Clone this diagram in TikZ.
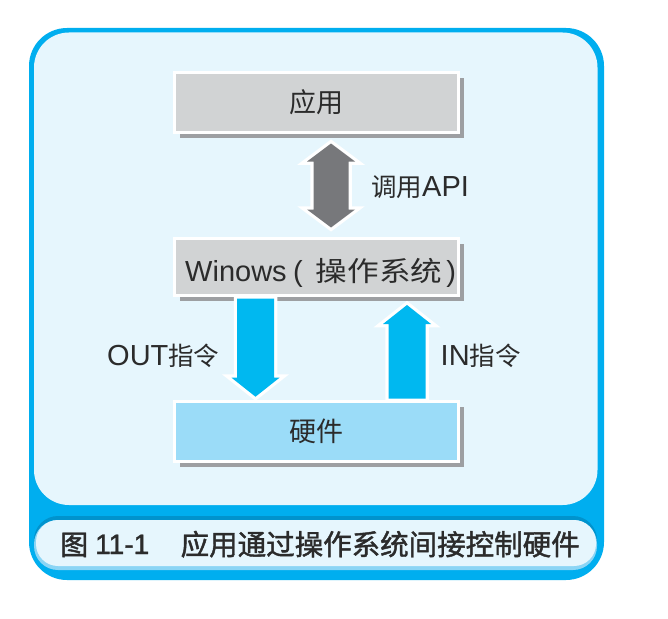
\documentclass[tikz,border=0pt]{standalone}
\usepackage{fontspec}
\setmainfont{Liberation Sans}
\newfontfamily\cjk{Noto Sans CJK SC}
\newfontfamily\cjkwide[FakeStretch=1.15]{Noto Sans CJK SC}
\newfontfamily\cjkcap[FakeBold=1.5]{Noto Sans CJK SC}
\newfontfamily\latcap[FakeBold=1.5]{Liberation Sans}
\usetikzlibrary{calc,shadows}
\definecolor{frameblue}{HTML}{00AEEF}
\definecolor{panel}{HTML}{E6F6FD}
\definecolor{boxgray}{HTML}{D1D3D4}
\definecolor{shadowgray}{HTML}{9D9FA2}
\definecolor{hwblue}{HTML}{9BDCF8}
\definecolor{arrowblue}{HTML}{00B8F0}
\definecolor{arrowgray}{HTML}{77787B}
\definecolor{rimdark}{HTML}{0093CD}
\definecolor{rimlight}{HTML}{8BD5F5}
\definecolor{textdark}{HTML}{2B2B2B}
\newcommand{\mylat}{\fontsize{29}{34}\selectfont}
\newcommand{\mycj}{\fontsize{25.5}{30}\selectfont\cjk}
\newcommand{\myboxcj}{\fontsize{27}{32}\selectfont\cjk}
\newcommand{\mywidecj}{\fontsize{27.5}{32}\selectfont\cjkwide}
\begin{document}
\begin{tikzpicture}[x=1pt,y=-1pt,
  box/.style={draw=white, line width=3pt, fill=boxgray, minimum width=284pt,
    minimum height=60pt, inner sep=0pt, text=textdark, font=\myboxcj,
    drop shadow={shadow xshift=5pt, shadow yshift=-5pt, fill=shadowgray, opacity=1}},
  hwbox/.style={box, fill=hwblue},
  label/.style={inner sep=0pt, text=textdark, anchor=base west},
  bluearrow/.style={fill=arrowblue, preaction={draw=white, line width=6.5pt, line join=miter}},
  grayarrow/.style={fill=arrowgray, preaction={draw=white, line width=6.5pt, line join=miter}}]
\useasboundingbox (0,0) rectangle (668,618);
% frame
\fill[frameblue, rounded corners=38pt] (29,28) rectangle (604,580);
\fill[panel, rounded corners=35pt] (34,32.5) rectangle (597.5,505);
% caption band
\fill[rimdark, rounded corners=24pt] (34,516) rectangle (597,567);
\fill[rimlight, rounded corners=24pt] (34,520) rectangle (597,570);
\fill[panel, rounded corners=22pt] (36,520) rectangle (596,566);
\node[label, font=\fontsize{28}{32}\selectfont\cjkcap] (capfig) at (60,555) {图};
\node[label, font=\fontsize{28}{32}\selectfont\latcap] (capnum) at (95,554) {11-1};
\node[label, font=\fontsize{28.5}{32}\selectfont\cjkcap] (captext) at (180.5,555) {应用通过操作系统间接控制硬件};
% boxes
\node[box] (app) at (316.5,102.5) {应用};
\node[box, minimum height=57pt] (os) at (316.5,267) {};
\node[hwbox] (hw) at (316.5,431.7) {硬件};
\node[label] (oslabel) at (185,281) {\mylat Winows\hspace{6.5pt}(\hspace{13pt}{\mywidecj 操作系统}\hspace{4pt})};
% arrow axes
\coordinate (apix) at (331,0);
\coordinate (outx) at (255.5,0);
\coordinate (inx) at (407,0);
% API double arrow
\coordinate (t1) at ($(apix |- app.south)+(0,9.5)$);
\coordinate (t2) at ($(apix |- os.north)+(0,-9.5)$);
\path[grayarrow] (t1) -- ($(t1)+(24,18)$) -- ($(t1)+(17.5,18)$) -- ($(t2)+(17.5,-18)$)
  -- ($(t2)+(24,-18)$) -- (t2) -- ($(t2)+(-24,-18)$) -- ($(t2)+(-17.5,-18)$)
  -- ($(t1)+(-17.5,18)$) -- ($(t1)+(-24,18)$) -- cycle;
% OUT arrow (down)
\coordinate (outtop) at ($(outx |- os.south)+(0,1.5)$);
\coordinate (outtip) at ($(outx |- hw.north)+(0,-3.5)$);
\path[bluearrow] ($(outtop)+(-18.5,0)$) -- ($(outtip)+(-18.5,-19)$) -- ($(outtip)+(-24,-19)$)
  -- (outtip) -- ($(outtip)+(24,-19)$) -- ($(outtip)+(18.5,-19)$) -- ($(outtop)+(18.5,0)$) -- cycle;
% IN arrow (up)
\coordinate (inbot) at ($(inx |- hw.north)+(0,-1.5)$);
\coordinate (intip) at ($(inx |- os.south)+(0,8)$);
\path[bluearrow] ($(inbot)+(-18.5,0)$) -- ($(intip)+(-18.5,19)$) -- ($(intip)+(-24,19)$)
  -- (intip) -- ($(intip)+(24,19)$) -- ($(intip)+(18.5,19)$) -- ($(inbot)+(18.5,0)$) -- cycle;
% labels
\node[label] (apilabel) at (371,196.5) {{\mycj 调用}\mylat API};
\node[label] (outlabel) at (107,365) {\mylat OUT{\mycj 指令}};
\node[label] (inlabel) at (440.5,365) {\mylat IN{\mycj 指令}};
\end{tikzpicture}
\end{document}
